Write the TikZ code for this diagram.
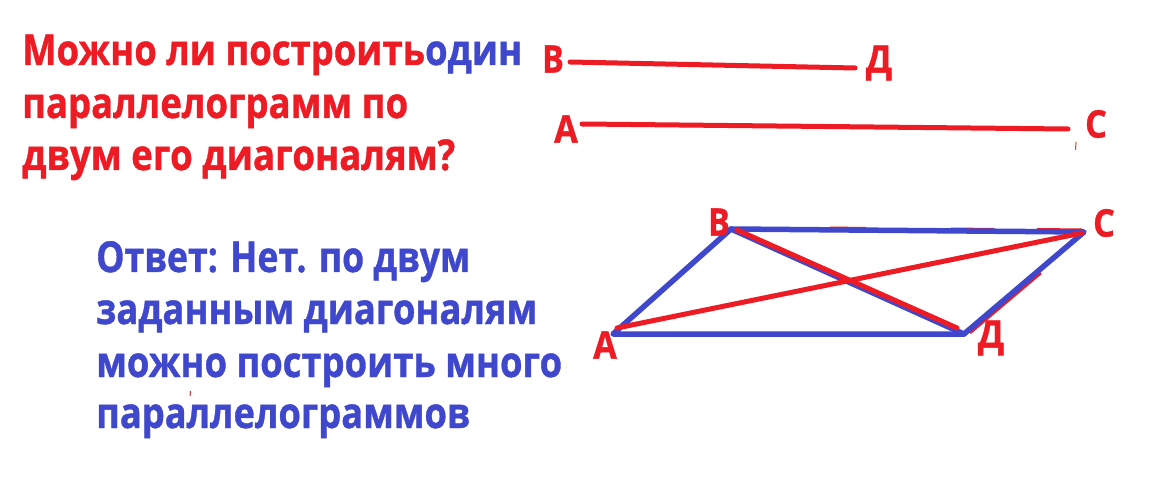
\documentclass[tikz,border=0pt]{standalone}
\usepackage{fontspec}
\usepackage{graphicx}
\setmainfont{Open Sans}[BoldFont={Open Sans Bold},BoldFeatures={FakeBold=1}]
\definecolor{pred}{RGB}{237,28,36}
\definecolor{pblue}{RGB}{63,72,204}
\newcommand{\fitw}[2]{\resizebox{#1}{\height}{#2}}
\begin{document}
\begin{tikzpicture}[x=1pt,y=-1pt,
  txt/.style={anchor=base west,inner sep=0pt,font=\bfseries\fontsize{42.5}{42.5}\selectfont},
  lbl/.style={inner sep=0pt,text=pred,font=\bfseries\fontsize{38}{38}\selectfont},
  redln/.style={draw=pred,line width=5pt,line cap=round},
  blueln/.style={draw=pblue,line width=5.5pt,line cap=round}]
\useasboundingbox[fill=white] (0,0) rectangle (1169,478);
% question
\node[txt,text=pred] (q1) at (22,65) {\fitw{500pt}{Можно ли построить\textcolor{pblue}{один}}};
\node[txt,text=pred] (q2) at (22,118) {\fitw{386pt}{параллелограмм по}};
\node[txt,text=pred] (q3) at (22,170) {\fitw{433pt}{двум его диагоналям?}};
% answer
\node[txt,text=pblue] (a1) at (96,272) {\fitw{374pt}{Ответ: Нет. по двум}};
\node[txt,text=pblue] (a2) at (96,324) {\fitw{441pt}{заданным диагоналям}};
\node[txt,text=pblue] (a3) at (96,377) {\fitw{466pt}{можно построить много}};
\node[txt,text=pblue] (a4) at (96,428) {\fitw{374pt}{параллелограммов}};
% given diagonals
\node[lbl] (tB) at (553,59) {\scalebox{0.85}[1]{В}};
\node[lbl] (tD) at (879,63) {\scalebox{0.9}[1]{Д}};
\node[lbl] (tA) at (566,129) {\scalebox{0.9}[1]{А}};
\node[lbl] (tC) at (1096,124) {\scalebox{0.9}[1]{С}};
\coordinate (bd1) at (570,62);
\coordinate (bd2) at (855,68);
\coordinate (ac1) at (582,124);
\coordinate (ac2) at (1068,129);
\draw[redln] (bd1) -- (bd2);
\draw[redln] (ac1) -- (ac2);
% small stray marks
\coordinate (m1a) at (1076,142);
\coordinate (m1b) at (1075.5,150);
\draw[draw=pred!70!orange,line width=1pt] (m1a) -- (m1b);
\coordinate (m2a) at (190.5,391);
\coordinate (m2b) at (190,396);
\draw[draw=pred,line width=1pt] (m2a) -- (m2b);
% parallelogram
\coordinate (A) at (613,334);
\coordinate (B) at (731,229);
\coordinate (C) at (1084,232);
\coordinate (D) at (964,334);
% red traces under the blue sides
\coordinate (r1a) at (830,228); \coordinate (r1b) at (866,228.5);
\coordinate (r2a) at (951,229); \coordinate (r2b) at (994,229.5);
\coordinate (r3a) at (1037,229.5); \coordinate (r3b) at (1082,230);
\draw[draw=pred,line width=3pt] (r1a) -- (r1b);
\draw[draw=pred,line width=3pt] (r2a) -- (r2b);
\draw[draw=pred,line width=3pt] (r3a) -- (r3b);
\coordinate (r4a) at (969.5,332.5); \coordinate (r4b) at (1040.5,272.5);
\draw[draw=pred,line width=4pt] (r4a) -- (r4b);
\draw[blueln,line join=round] (A) -- (B) -- (C) -- (D) -- cycle;
\draw[blueln] (B) -- (D);
\coordinate (rac1) at (617,328);
\coordinate (rac2) at (1082,233);
\coordinate (rbd1) at (737,230);
\coordinate (rbd2) at (957,328);
\draw[redln] (rac1) -- (rac2);
\draw[redln] (rbd1) -- (rbd2);
\node[lbl] (pA) at (605,345) {\scalebox{0.9}[1]{А}};
\node[lbl] (pB) at (719,222) {\scalebox{0.85}[1]{В}};
\node[lbl] (pC) at (1104,223) {\scalebox{0.9}[1]{С}};
\node[lbl] (pD) at (991,338) {\scalebox{0.9}[1]{Д}};
\end{tikzpicture}
\end{document}
